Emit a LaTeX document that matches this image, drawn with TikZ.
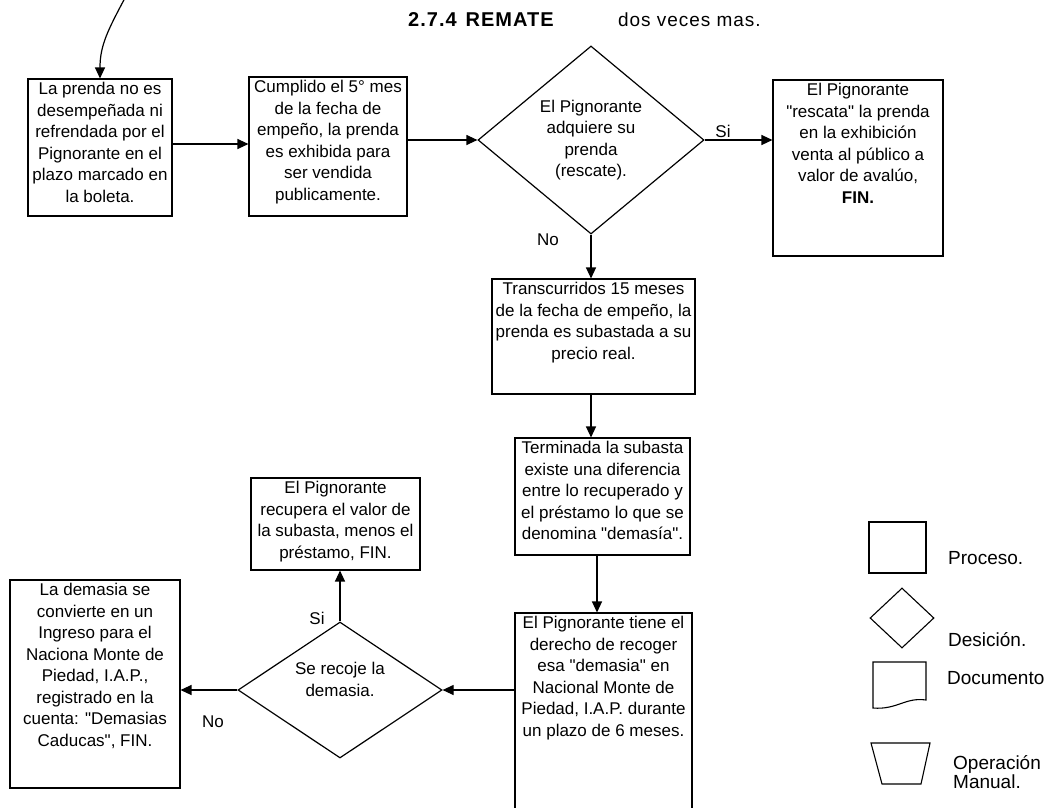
\documentclass[tikz,border=0pt]{standalone}
\usepackage{fontspec}
\setmainfont{Liberation Sans}[Ligatures=TeXOff]
\usetikzlibrary{shapes.geometric,arrows.meta}

\newcommand{\bt}[3]{\parbox[c][#2pt][t]{#1pt}{\centering\vspace*{3pt}\rule{0pt}{12.5pt}#3\par}}

\tikzset{
 box/.style={draw, line width=1.1pt, inner sep=0pt, font=\fontsize{17}{21.5}\selectfont},
 dec/.style={draw, diamond, line width=1.2pt, inner sep=0pt, align=center, font=\fontsize{17}{21.5}\selectfont},
 arr/.style={line width=1.2pt, -{Triangle[length=11pt,width=10pt]}},
 lbl/.style={font=\fontsize{17}{20}\selectfont, inner sep=0pt},
 leg/.style={font=\fontsize{19}{20}\selectfont, inner sep=0pt, anchor=west},
 legshape/.style={draw, line width=1.1pt, inner sep=0pt},
}

\begin{document}
\begin{tikzpicture}[x=1pt,y=-1pt]
\useasboundingbox (0,0) rectangle (1057,807);
\clip (0,0) rectangle (1057,807);

% title
\node[font=\bfseries\fontsize{20}{24}\selectfont\addfontfeature{LetterSpace=5}, anchor=west, inner sep=0pt] (title) at (408,20) {2.7.4\hspace{9pt}REMATE};
\node[font=\fontsize{19}{22}\selectfont\addfontfeature{LetterSpace=5}, anchor=west, inner sep=0pt] (sub) at (618,20) {dos veces mas.};

% process boxes
\node[box] (b1) at (100,147.5) {\bt{144}{137}{La prenda no es\\desempeñada ni\\refrendada por el\\Pignorante en el\\plazo marcado en\\la boleta.}};
\node[box] (b2) at (328,146.5) {\bt{158}{139}{Cumplido el 5° mes\\de la fecha de\\empeño, la prenda\\es exhibida para\\ser vendida\\publicamente.}};
\node[box] (b3) at (858,168) {\bt{170}{176}{El Pignorante\\"rescata" la prenda\\en la exhibición\\venta al público a\\valor de avalúo,\\\textbf{FIN.}}};
\node[box] (b4) at (593.5,336.5) {\bt{203}{115}{Transcurridos 15 meses\\de la fecha de empeño, la\\prenda es subastada a su\\precio real.}};
\node[box] (b5) at (602.5,496.5) {\bt{175}{117}{Terminada la subasta\\existe una diferencia\\entre lo recuperado y\\el préstamo lo que se\\denomina "demasía".}};
\node[box] (b6) at (603.5,723) {\bt{177}{220}{El Pignorante tiene el\\derecho de recoger\\esa "demasia" en\\Nacional Monte de\\Piedad, I.A.P. durante\\un plazo de 6 meses.}};
\node[box] (b7) at (335.5,524) {\bt{169}{92}{El Pignorante\\recupera el valor de\\la subasta, menos el\\préstamo, FIN.}};
\node[box] (b8) at (95,684) {\bt{170}{208}{La demasia se\\convierte en un\\Ingreso para el\\Naciona Monte de\\Piedad, I.A.P.,\\registrado en la\\cuenta: "Demasias\\Caducas", FIN.}};

% decisions
\node[dec, minimum width=226pt, minimum height=188pt, aspect=1.2] (d1) at (591,140) {El Pignorante\\adquiere su\\prenda\\(rescate).};
\node[dec, minimum width=204pt, minimum height=136pt, aspect=1.5] (d2) at (340,690) {Se recoje la\\demasia.\\\mbox{}};

% labels
\node[lbl] (si1) at (723,131) {Si};
\node[lbl] (no1) at (548,240) {No};
\node[lbl] (si2) at (317,618) {Si};
\node[lbl] (no2) at (213,722) {No};

% connectors
\coordinate (c0) at (126,-4);
\draw[arr] (c0) .. controls (108,30) and (100,45) .. (b1.north);
\coordinate (ya) at (0,144);
\draw[arr] (b1.east |- ya) -- (b2.west |- ya);
\draw[arr] (b2.east |- d1.west) -- (d1.west);
\draw[arr] (d1.east) -- (b3.west |- d1.east);
\draw[arr] (d1.south) -- (d1.south |- b4.north);
\coordinate (xa) at (591,0);
\draw[arr] (b4.south -| xa) -- (b5.north -| xa);
\coordinate (xb) at (597,0);
\draw[arr] (b5.south -| xb) -- (b6.north -| xb);
\draw[arr] (b6.west |- d2.east) -- (d2.east);
\draw[arr] (d2.north) -- (d2.north |- b7.south);
\draw[arr] (d2.west) -- (b8.east |- d2.west);

% legend
\node[legshape, minimum width=57pt, minimum height=51pt] (lp) at (897.5,547.5) {};
\node[leg] (lpt) at (948,558) {Proceso.};
\node[legshape, diamond, minimum width=64pt, minimum height=60pt] (ld) at (902,618) {};
\node[leg] (ldt) at (948,640) {Desición.};
\draw[line width=1.1pt] (873,662) -- (926,662) -- (926,700) .. controls (905,697) and (897,710) .. (873,708) -- cycle;
\node[leg] (ldoc) at (947,678) {Documento};
\draw[line width=1.1pt] (871,743) -- (930,743) -- (921,784) -- (882,784) -- cycle;
\node[leg, align=left, font=\fontsize{19}{19}\selectfont] (lman) at (953,772) {Operación\\Manual.};
\end{tikzpicture}
\end{document}
